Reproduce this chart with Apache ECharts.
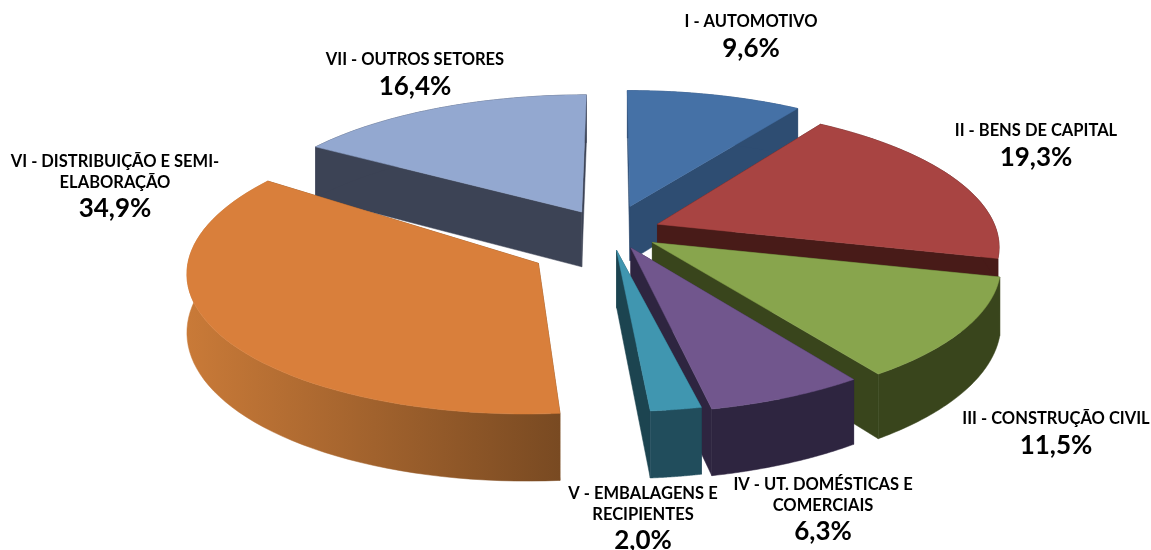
<!DOCTYPE html>
<html>
<head>
<meta charset="utf-8">
<style>html,body{margin:0;padding:0;background:#fff}#main{width:1151px;height:550px}</style>
<script src="https://cdn.jsdelivr.net/npm/echarts@6/dist/echarts.min.js"></script>
</head>
<body>
<div id="main"></div>
<script>
// dados
var categories = [
  'I - AUTOMOTIVO',
  'II - BENS DE CAPITAL',
  'III - CONSTRUÇÃO CIVIL',
  'IV - UT. DOMÉSTICAS E\nCOMERCIAIS',
  'V - EMBALAGENS E\nRECIPIENTES',
  'VI - DISTRIBUIÇÃO E SEMI-\nELABORAÇÃO',
  'VII - OUTROS SETORES'
];
var values = [9.6, 19.3, 11.5, 6.3, 2.0, 34.9, 16.4];

// layout / estilo
var topColors = ['#4571a6', '#a84442', '#88a54d', '#71568d', '#4096b0', '#d97f3b', '#93a8d0'];
var wallColors = ['#2e4d72', '#481b18', '#39451c', '#2e2540', '#214d5c', '#a5652f', '#3c4355'];
var cutColors = ['#2e4d72', '#481b18', '#39451c', '#2e2540', '#1c4450', '#7a4a22', '#3c4355'];
var explode = [0.2, 0.12, 0.12, 0.10, 0.11, 0.22, 0.17];
var radiusScale = [1, 1, 1, 1, 1, 0.985, 1];
var drawRank = [0, 2, 3, 5, 6, 4, 1];
// ajuste fino de cada fatia e do seu vertice, em px
var sliceShift = [[-2, 0], [1, 0], [1, 2], [-1, 3], [-2, -2], [-8, 2], [-1, 0]];
var apexShift = [[0, 2], [6, 0], [5, 1], [6, 2], [1, 7], [0, 15], [-1, 2]];
var labelPos = [[751, 38], [1036, 147], [1056, 435], [823, 511], [643, 520], [115, 188], [415, 76]];

var cx = 612, cy = 230, rx = 345, ry = 138, persp = 0.15, depth = 56;
var total = values.reduce(function (a, b) { return a + b; }, 0);

function angleAt(i) {
  var sum = 0;
  for (var k = 0; k < i; k++) sum += values[k];
  return sum / total * Math.PI * 2;
}

function projector(mid, ex, shift) {
  return function (theta, r, down) {
    var u = r * Math.sin(theta) + ex * Math.sin(mid);
    var v = -r * Math.cos(theta) - ex * Math.cos(mid);
    var s = 1 / (1 - persp * v);
    return [cx + shift[0] + rx * u * s, cy + shift[1] + ry * v * s + (down ? depth * s : 0)];
  };
}

function poly(points, fill, z) {
  return {
    type: 'polygon',
    z2: z,
    shape: { points: points },
    style: { fill: fill, stroke: fill, lineWidth: 0.5 }
  };
}

function renderSlice(params, api) {
  var i = params.dataIndex;
  var a0 = angleAt(i), a1 = a0 + api.value(0) / total * Math.PI * 2;
  var mid = (a0 + a1) / 2;
  var p = projector(mid, explode[i], sliceShift[i]);
  var z = drawRank[i] * 10;
  var rim = [], rimDown = [], steps = 60;
  for (var n = 0; n <= steps; n++) {
    var t = a0 + (a1 - a0) * n / steps;
    rim.push(p(t, radiusScale[i], false));
    rimDown.push(p(t, radiusScale[i], true));
  }
  var wallFill = wallColors[i];
  if (i === 5) {
    // parede laranja clareia para a esquerda
    wallFill = new echarts.graphic.LinearGradient(0, 0, 1, 0, [
      { offset: 0, color: '#c97a38' },
      { offset: 1, color: '#794a22' }
    ]);
  }
  var apex = p(0, 0, false), apexDown = p(0, 0, true);
  apex = [apex[0] + apexShift[i][0], apex[1] + apexShift[i][1]];
  apexDown = [apexDown[0] + apexShift[i][0], apexDown[1] + apexShift[i][1]];
  var children = [
    poly([apex, apexDown, rimDown[0], rim[0]], cutColors[i], z),
    poly([apex, apexDown, rimDown[steps], rim[steps]], cutColors[i], z + 1),
    poly(rim.concat(rimDown.slice().reverse()), wallFill, z + 2),
    poly([apex].concat(rim), topColors[i], z + 3)
  ];
  var text = categories[i] + '\n{v|' + api.value(0).toFixed(1).replace('.', ',') + '%}';
  children.push({
    type: 'text',
    z2: 100,
    x: labelPos[i][0],
    y: labelPos[i][1],
    style: {
      text: text,
      fill: '#000',
      align: 'center',
      verticalAlign: 'middle',
      font: 'bold 16.5px Lato',
      lineHeight: 21,
      rich: { v: { font: 'bold 26px Lato', lineHeight: 32, fill: '#000' } }
    }
  });
  return { type: 'group', children: children };
}

var chart = echarts.init(document.getElementById('main'), null, { renderer: 'canvas' });
chart.setOption({
  animation: false,
  backgroundColor: '#fff',
  series: [{
    type: 'custom',
    coordinateSystem: 'none',
    renderItem: renderSlice,
    data: values.map(function (v, i) { return { name: categories[i], value: [v] }; })
  }]
});
</script>
</body>
</html>
